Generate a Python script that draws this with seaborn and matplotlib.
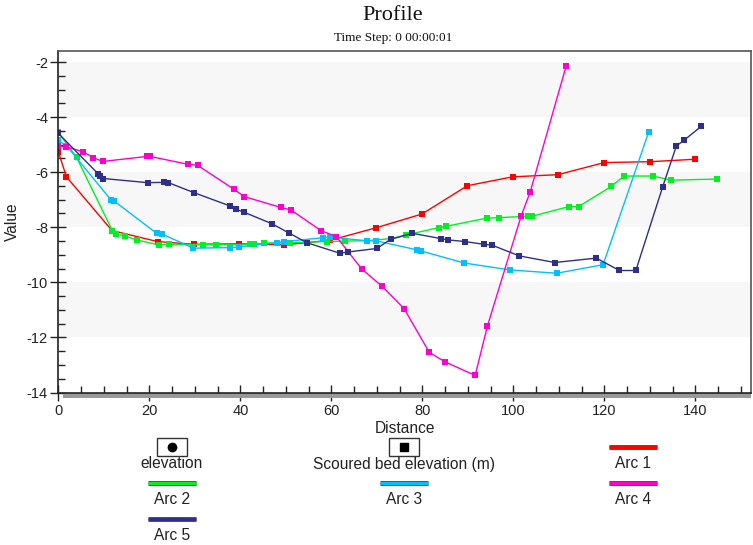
import numpy as np
import pandas as pd
import matplotlib
matplotlib.use("Agg")
import matplotlib.pyplot as plt
from matplotlib.lines import Line2D
from matplotlib.patches import Rectangle
from matplotlib.ticker import MultipleLocator
import matplotlib.patheffects as pe
import seaborn as sns

# ---- profile data (distance, scoured bed elevation) per arc ----
arc1_x = [0, 1.8, 11.8, 21.8, 29.9, 39.6, 49.7, 59.8, 69.8, 79.9, 89.9, 99.8, 109.8, 120.0, 130.0, 140.0]
arc1_y = [-5.26, -6.17, -8.12, -8.52, -8.62, -8.60, -8.64, -8.47, -8.02, -7.52, -6.49, -6.17, -6.09, -5.65, -5.62, -5.53]

arc2_x = [0, 4.0, 11.9, 12.6, 14.6, 17.2, 22.1, 24.3, 31.9, 34.7, 42.1, 42.9, 45.1, 50.8, 59.0, 62.9,
          67.8, 73.2, 76.4, 83.7, 85.1, 94.1, 96.9, 103.2, 104.1, 112.2, 114.3, 121.5, 124.3, 130.6, 134.7, 144.7]
arc2_y = [-4.55, -5.46, -8.13, -8.25, -8.31, -8.46, -8.64, -8.62, -8.63, -8.63, -8.62, -8.62, -8.58, -8.56, -8.52, -8.50,
          -8.49, -8.41, -8.28, -8.01, -7.97, -7.67, -7.65, -7.60, -7.60, -7.25, -7.25, -6.52, -6.14, -6.14, -6.29, -6.25]

arc3_x = [0, 1.8, 11.6, 12.3, 21.6, 22.7, 29.7, 37.7, 39.8, 48.0, 49.6, 58.2, 59.7, 67.8, 69.8,
          78.8, 79.7, 89.2, 99.3, 109.5, 119.7, 129.7]
arc3_y = [-4.84, -5.04, -7.01, -7.05, -8.22, -8.24, -8.76, -8.74, -8.71, -8.56, -8.52, -8.38, -8.36, -8.49, -8.49,
          -8.82, -8.86, -9.30, -9.55, -9.67, -9.36, -4.55]

arc4_x = [0, 1.7, 5.5, 7.6, 9.8, 19.4, 20.2, 28.4, 30.6, 38.5, 40.9, 48.9, 51.1, 57.7, 61.1, 66.7,
          71.2, 76.0, 81.5, 85.0, 91.6, 94.3, 101.7, 103.7, 111.6]
arc4_y = [-5.04, -5.08, -5.26, -5.47, -5.61, -5.43, -5.43, -5.71, -5.75, -6.61, -6.89, -7.28, -7.37, -8.12, -8.34, -9.52,
          -10.15, -10.96, -12.54, -12.89, -13.38, -11.58, -7.59, -6.71, -2.14]

arc5_x = [0, 8.7, 9.2, 9.9, 19.6, 23.3, 24.2, 29.9, 37.8, 39.1, 40.9, 46.9, 50.7, 54.6, 61.8, 63.6,
          70.0, 73.0, 77.8, 84.0, 85.7, 89.4, 93.5, 95.3, 101.3, 109.1, 118.2, 123.3, 126.9, 132.8, 135.8, 137.5, 141.3]
arc5_y = [-4.59, -6.05, -6.13, -6.23, -6.38, -6.37, -6.38, -6.75, -7.23, -7.35, -7.46, -7.87, -8.21, -8.56, -8.94, -8.90,
          -8.77, -8.44, -8.22, -8.41, -8.46, -8.52, -8.62, -8.65, -9.04, -9.28, -9.12, -9.57, -9.57, -6.53, -5.05, -4.84, -4.33]

arc_names = ["Arc 1", "Arc 2", "Arc 3", "Arc 4", "Arc 5"]
arc_colors = ["#ff0000", "#00f020", "#00c0ff", "#ff00cc", "#2e2e8c"]

series = [(arc1_x, arc1_y), (arc2_x, arc2_y), (arc3_x, arc3_y), (arc4_x, arc4_y), (arc5_x, arc5_y)]
df = pd.concat(
    [pd.DataFrame({"Distance": xs, "Value": ys, "Arc": name}) for name, (xs, ys) in zip(arc_names, series)],
    ignore_index=True,
)

sns.set_theme(style="white")
plt.rcParams["font.family"] = ["Liberation Sans", "DejaVu Sans"]
plt.rcParams["axes.unicode_minus"] = False

W, H = 753, 545
fig = plt.figure(figsize=(W / 100, H / 100), dpi=100)
L, R, T, B = 58.3, 751.0, 51.0, 392.5
ax = fig.add_axes([L / W, 1 - B / H, (R - L) / W, (B - T) / H])

# alternating horizontal bands
for lo, hi in [(-4, -2), (-8, -6), (-12, -10)]:
    ax.axhspan(lo, hi, color="#f7f7f7", zorder=0, lw=0)

sns.lineplot(
    data=df, x="Distance", y="Value", hue="Arc", hue_order=arc_names,
    palette=dict(zip(arc_names, arc_colors)), estimator=None, sort=False,
    marker="s", markersize=3.8, markeredgewidth=0, linewidth=1.0,
    legend=False, ax=ax,
)

ax.set_xlim(0, 152.2)
ax.set_ylim(-14, -1.6)
ax.xaxis.set_major_locator(MultipleLocator(20))
ax.xaxis.set_minor_locator(MultipleLocator(5))
ax.yaxis.set_major_locator(MultipleLocator(2))
ax.yaxis.set_minor_locator(MultipleLocator(0.5))
ax.tick_params(bottom=True, left=True, top=False, right=False, labelsize=10.5, labelcolor="#222222")
ax.tick_params(axis="y", which="major", direction="inout", length=11, width=1, color="#222222", pad=2)
ax.tick_params(axis="y", which="minor", direction="in", length=5, width=1, color="#222222", left=True)
ax.tick_params(axis="x", which="major", direction="inout", length=11, width=1, color="#222222", pad=3)
ax.tick_params(axis="x", which="minor", direction="in", length=5, width=1, color="#222222", bottom=True)

for side in ["left", "bottom"]:
    ax.spines[side].set_color("#222222")
    ax.spines[side].set_linewidth(1.2)
for side in ["top", "right"]:
    ax.spines[side].set_color("#555555")
    ax.spines[side].set_linewidth(1.2)

# shadow under the bottom axis
ax.add_patch(Rectangle((0.007, -5 / (B - T)), 0.993, 5 / (B - T), transform=ax.transAxes,
                       facecolor="#999999", edgecolor="none", clip_on=False, zorder=1))

ax.set_xlabel("Distance", fontsize=11.2, color="#222222")
ax.set_ylabel("Value", fontsize=11.2, color="#222222")
ax.xaxis.set_label_coords(0.5, -(421 - B) / (B - T))
ax.yaxis.set_label_coords(-(L - 20) / (R - L), 0.5)

serif = ["Liberation Serif", "DejaVu Serif"]
fig.text(393 / W, 1 - 15 / H, "Profile", ha="center", va="center", fontsize=16, family=serif, color="#111111")
fig.text(393 / W, 1 - 38 / H, "Time Step: 0 00:00:01", ha="center", va="center", fontsize=9.5, family=serif,
         color="#111111")


# ---- legend below the plot, drawn in figure pixel coordinates ----
def fx(x):
    return x / W


def fy(y):
    return 1 - y / H


def symbol_box(cx, cy, marker):
    fig.patches.append(Rectangle((fx(cx - 15), fy(cy + 9)), 30 / W, 18 / H, transform=fig.transFigure,
                                 facecolor="white", edgecolor="#333333", linewidth=1.0))
    fig.lines.append(Line2D([fx(cx)], [fy(cy)], marker=marker, markersize=6, color="black",
                            transform=fig.transFigure))


def swatch(cx, cy, color):
    fig.lines.append(Line2D([fx(cx - 24), fx(cx + 24)], [fy(cy), fy(cy)], color=color, linewidth=2.2,
                            solid_capstyle="butt", transform=fig.transFigure,
                            path_effects=[pe.Stroke(linewidth=3.6, foreground="#555555"), pe.Normal()]))


cols = [172, 404, 633]
symbol_box(cols[0], 447, "o")
fig.text(fx(cols[0]), fy(464), "elevation", ha="center", va="center", fontsize=11.2, color="#222222")
symbol_box(cols[1], 447, "s")
fig.text(fx(cols[1]), fy(464), "Scoured bed elevation (m)", ha="center", va="center", fontsize=11.2,
         color="#222222")

legend_slots = [(cols[2], 447), (cols[0], 483), (cols[1], 483), (cols[2], 483), (cols[0], 519)]
for name, color, (cx, cy) in zip(arc_names, arc_colors, legend_slots):
    swatch(cx, cy, color)
    fig.text(fx(cx), fy(cy + 17), name, ha="center", va="center", fontsize=11.2, color="#222222")

fig.savefig("out.png", dpi=100)
